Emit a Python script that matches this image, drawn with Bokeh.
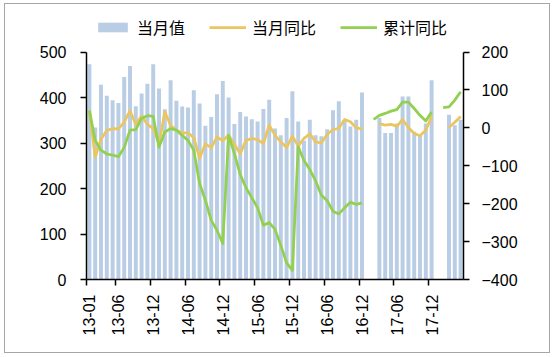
import numpy as np
from bokeh.plotting import figure
from bokeh.models import Range1d, LinearAxis, FixedTicker, Legend, LegendItem, ColumnDataSource
from bokeh.embed import file_html
from bokeh.resources import INLINE

nan = float("nan")

# categories: 2013-01 .. 2018-05
years = ["13", "14", "15", "16", "17", "18"]
months = [f"{y}-{m:02d}" for y in years for m in range(1, 13)][:65]

tick_labels = ["13-01", "13-06", "13-12", "14-06", "14-12", "15-06",
               "15-12", "16-06", "16-12", "17-06", "17-12"]

# 当月值 (left axis)
monthly_value = [473, 334, 428, 404, 394, 388, 445, 469, 381, 409, 430, 473,
                 420, 374, 438, 393, 380, 378, 416, 387, 338, 357, 407, 436,
                 400, 342, 368, 358, 352, 347, 375, 395, 332, 317, 355, 414,
                 347, 305, 351, 317, 315, 330, 372, 392, 350, 336, 351, 411,
                 nan, nan, 355, 322, 322, 343, 402, 402, 325, 317, 343, 438,
                 nan, nan, 362, 339, 351]

# 当月同比 (right axis)
monthly_yoy = [45, -77, -30, -7, -2, -3, 15, 45, 9, 31, 9, -2,
               -42, 42, 7, -7, -13, -13, -26, -80, -42, -53, -24, -34,
               -19, -43, -68, -33, -28, -31, -42, 7, -20, -37, -52, -22,
               -48, -28, -16, -37, -40, -17, -5, -1, 22, 16, 0, -3,
               nan, nan, 11, 7, 9, 4, 22, 1, -15, -21, -6, 30,
               nan, nan, 1, 15, 30]

# 累计同比 (right axis)
cumulative_yoy = [46, -33, -59, -69, -72, -76, -52, -6, -5, 25, 32, 30,
                  -51, -11, -2, -6, -20, -33, -59, -147, -191, -244, -270, -305,
                  -20, -68, -123, -158, -184, -211, -257, -250, -268, -310, -356, -376,
                  -50, -86, -110, -140, -178, -192, -220, -227, -211, -196, -202, -198,
                  nan, 22, 33, 38, 44, 48, 68, 68, 51, 33, 18, 42,
                  nan, 53, 55, 73, 95]

BAR = "#B9CDE5"
YEL = "#EBC65F"
GRN = "#92D050"

x = [i + 0.5 for i in range(len(months))]
src = ColumnDataSource(dict(x=x, v=monthly_value, m=monthly_yoy, c=cumulative_yoy))

# frame extends above the 500 / 200 level so the legend can sit inside it
W, H = 546, 350
MB_L, MB_R, MB_T, MB_B = 81, 88, 5, 75
frame_h = H - MB_T - MB_B
px_500 = 227.5  # pixel height of the 0..500 span
left_end = 500 * frame_h / px_500
right_end = -400 + 600 * frame_h / px_500

p = figure(width=W, height=H, output_backend="svg", toolbar_location=None,
           x_range=Range1d(0, len(months)), y_range=Range1d(0, left_end),
           min_border_left=MB_L, min_border_right=MB_R,
           min_border_top=MB_T, min_border_bottom=MB_B)
p.styles = {"border": "1px solid #A6A6A6", "margin-left": "4px", "margin-top": "3px"}
p.extra_y_ranges = {"yoy": Range1d(-400, right_end)}

bars = p.vbar(x="x", top="v", bottom=0, width=0.68, source=src,
              fill_color=BAR, line_color=None)
l1 = p.line(x="x", y="m", source=src, y_range_name="yoy",
            line_color=YEL, line_width=2.75, line_join="round")
l2 = p.line(x="x", y="c", source=src, y_range_name="yoy",
            line_color=GRN, line_width=2.75, line_join="round")

p.xgrid.visible = False
p.ygrid.visible = False
p.outline_line_color = None

font = "Liberation Sans"

# x axis: labels at category centres, tick marks at category boundaries
tick_idx = [months.index(t) for t in tick_labels]
xax = p.xaxis[0]
xax.ticker = FixedTicker(ticks=[i + 0.5 for i in tick_idx], minor_ticks=tick_idx)
xax.major_label_overrides = {i + 0.5: t for i, t in zip(tick_idx, tick_labels)}
xax.major_label_orientation = np.pi / 2
xax.minor_tick_out = 6
xax.minor_tick_in = 0
xax.minor_tick_line_color = "black"
xax.minor_tick_line_width = 1.5
xax.major_label_standoff = 9

yax = p.yaxis[0]
yax.ticker = FixedTicker(ticks=[0, 100, 200, 300, 400, 500])
yax.bounds = (0, 500)
yax.minor_tick_line_color = None
yax.major_label_standoff = 14

rax = LinearAxis(y_range_name="yoy", bounds=(-400, 200),
                 ticker=FixedTicker(ticks=[-400, -300, -200, -100, 0, 100, 200]))
rax.minor_tick_line_color = None
rax.major_label_standoff = 12
p.add_layout(rax, "right")

for ax in [xax, yax, rax]:
    ax.axis_line_color = "black"
    ax.axis_line_width = 1.5
    ax.major_tick_out = 6
    ax.major_tick_in = 0
    ax.major_tick_line_width = 1.5
    ax.major_label_text_font = font
    ax.major_label_text_font_size = "16px"
    ax.major_label_text_color = "black"
xax.major_tick_line_color = None
yax.major_tick_line_color = "black"
rax.major_tick_line_color = "black"

legend = Legend(items=[LegendItem(label="当月值", renderers=[bars]),
                       LegendItem(label="当月同比", renderers=[l1]),
                       LegendItem(label="累计同比", renderers=[l2])],
                orientation="horizontal", location=(8, 240),
                border_line_color=None, background_fill_alpha=0,
                label_text_font="Noto Sans CJK SC", label_text_font_size="16px",
                label_text_color="black", label_height=16,
                glyph_width=37, glyph_height=12, label_standoff=6, spacing=24,
                padding=0, margin=0)
p.add_layout(legend, "center")

open("out.html", "w").write(file_html(p, INLINE))
